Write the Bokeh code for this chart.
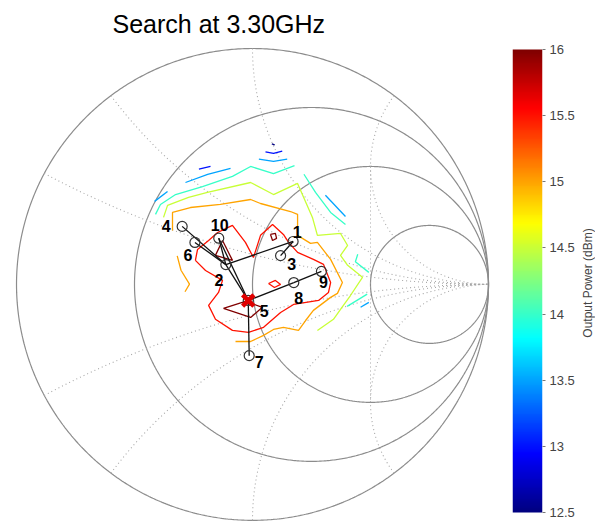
import numpy as np
from bokeh.plotting import figure
from bokeh.models import (Range1d, LinearAxis, FixedTicker, NumeralTickFormatter,
                          LinearColorMapper, ColumnDataSource)
from bokeh.layouts import row
from bokeh.embed import file_html
from bokeh.resources import INLINE
from bokeh.core.properties import value

# ---------------- data ----------------
title_text = "Search at 3.30GHz"
cbar_label = "Output Power (dBm)"
cbar_low, cbar_high = 12.5, 16.0
cbar_ticks = [12.5, 13, 13.5, 14, 14.5, 15, 15.5, 16]

# Smith chart grid values
r_circles = [0, 1 / 3, 1, 3]
x_arcs = [0.25, 0.5, 1, 2]

# search points (reflection coefficient, real / imag)
pt_id = ["1", "2", "3", "4", "5", "6", "7", "8", "9", "10"]
pt_re = [0.172, -0.113, 0.119, -0.298, -0.018, -0.244, -0.014, 0.175, 0.292, -0.143]
pt_im = [0.182, 0.084, 0.122, 0.246, -0.068, 0.178, -0.302, 0.008, 0.055, 0.196]
best_point = "5"
search_edges = [("1", "2"), ("1", "3"), ("2", "4"), ("2", "5"), ("2", "6"),
                ("2", "10"), ("5", "10"), ("5", "7"), ("5", "8"), ("8", "9")]

# contour segments (level, re, im)
c125_a_re = [0.082, 0.094]
c125_a_im = [0.596, 0.592]

c130_a_re = [-0.227, -0.178]
c130_a_im = [0.489, 0.500]
c130_b_re = [0.055, 0.089, 0.126]
c130_b_im = [0.562, 0.555, 0.565]

c135_a_re = [-0.415, -0.360]
c135_a_im = [0.352, 0.394]
c135_b_re = [-0.284, -0.190, -0.093]
c135_b_im = [0.432, 0.466, 0.492]
c135_c_re = [0.027, 0.089, 0.147]
c135_c_im = [0.531, 0.522, 0.531]
c135_d_re = [0.309, 0.394]
c135_d_im = [0.378, 0.288]
c135_e_re = [0.458, 0.493]
c135_e_im = [-0.097, -0.076]

c140_a_re = [-0.411, -0.390, -0.326, -0.212, -0.085, -0.008, 0.089, 0.178]
c140_a_im = [0.297, 0.339, 0.381, 0.415, 0.458, 0.500, 0.470, 0.504]
c140_b_re = [0.218, 0.267, 0.331, 0.394]
c140_b_im = [0.467, 0.390, 0.305, 0.254]
c140_c_re = [0.446, 0.436, 0.493]
c140_c_im = [0.128, 0.096, 0.051]
c140_d_re = [0.401, 0.486]
c140_d_im = [-0.093, -0.041]

c145_a_re = [-0.377, -0.360, -0.271, -0.191, -0.008, 0.089, 0.191, 0.254, 0.275,
             0.373, 0.403, 0.373, 0.403, 0.466, 0.415, 0.373, 0.343, 0.275]
c145_a_im = [0.284, 0.335, 0.369, 0.390, 0.432, 0.381, 0.428, 0.284, 0.208,
             0.216, 0.165, 0.123, 0.081, 0.030, -0.047, -0.106, -0.148, -0.195]

c150_a_re = [-0.339, -0.339, -0.263, -0.136, -0.008, 0.034, 0.161, 0.191, 0.191,
             0.246, 0.275, 0.331, 0.381, 0.360, 0.331, 0.258, 0.225, 0.195,
             0.131, 0.089, 0.047, -0.008, -0.072]
c150_a_im = [0.229, 0.305, 0.326, 0.339, 0.360, 0.343, 0.309, 0.297, 0.208,
             0.174, 0.178, 0.106, 0.008, -0.038, -0.055, -0.110, -0.153, -0.195,
             -0.182, -0.191, -0.216, -0.242, -0.242]
c150_b_re = [-0.319, -0.303, -0.267, -0.286]
c150_b_im = [0.121, 0.060, 0.001, -0.031]

c155_a_re = [-0.242, -0.199, -0.127, -0.144, -0.186, -0.157, -0.085, -0.017, 0.047,
             0.119, 0.174, 0.280, 0.322, 0.331, 0.301, 0.258, 0.191, 0.153, 0.131,
             0.085, 0.034, 0.004, -0.030, -0.085, -0.148, -0.186, -0.233, -0.242]
c155_a_im = [0.102, 0.059, 0.017, -0.034, -0.089, -0.148, -0.195, -0.203, -0.182,
             -0.119, -0.085, -0.068, -0.034, 0.008, 0.085, 0.106, 0.136, 0.178, 0.212,
             0.254, 0.208, 0.114, 0.178, 0.250, 0.220, 0.186, 0.148, 0.102]
c155_b_re = [0.068, 0.097, 0.119, 0.093, 0.068]
c155_b_im = [0.004, 0.017, 0.000, -0.013, 0.004]

c160_a_re = [-0.123, -0.030, 0.042, -0.008, -0.123]
c160_a_im = [-0.102, -0.072, -0.097, -0.140, -0.102]
c160_b_re = [-0.157, -0.127, -0.085, -0.157]
c160_b_im = [0.123, 0.186, 0.102, 0.123]
c160_c_re = [0.076, 0.097, 0.102, 0.085, 0.076]
c160_c_im = [0.212, 0.216, 0.195, 0.186, 0.212]

contours = [
    (12.5, c125_a_re, c125_a_im),
    (13.0, c130_a_re, c130_a_im), (13.0, c130_b_re, c130_b_im),
    (13.5, c135_a_re, c135_a_im), (13.5, c135_b_re, c135_b_im),
    (13.5, c135_c_re, c135_c_im), (13.5, c135_d_re, c135_d_im),
    (13.5, c135_e_re, c135_e_im),
    (14.0, c140_a_re, c140_a_im), (14.0, c140_b_re, c140_b_im),
    (14.0, c140_c_re, c140_c_im), (14.0, c140_d_re, c140_d_im),
    (14.5, c145_a_re, c145_a_im),
    (15.0, c150_a_re, c150_a_im), (15.0, c150_b_re, c150_b_im),
    (15.5, c155_a_re, c155_a_im), (15.5, c155_b_re, c155_b_im),
    (16.0, c160_a_re, c160_a_im), (16.0, c160_b_re, c160_b_im),
    (16.0, c160_c_re, c160_c_im),
]

# label placement (screen px, x right / y down) -- style
lbl_dx = [4, -7, 11, -16, 16, -7, 10, 5, 2, 1]
lbl_dy = [-9, 15, 8, 0, 11, 13, 6, 15, 11, -13]


# ---------------- helpers ----------------
def jet(t):
    t = np.clip(t, 0, 1)
    r = np.clip(1.5 - abs(4 * t - 3), 0, 1)
    g = np.clip(1.5 - abs(4 * t - 2), 0, 1)
    b = np.clip(1.5 - abs(4 * t - 1), 0, 1)
    return "#%02x%02x%02x" % (int(round(r * 255)), int(round(g * 255)), int(round(b * 255)))


jet_palette = [jet(t) for t in np.linspace(0, 1, 256)]

GRID_SOLID = "#8c8c8c"
GRID_DOT = "#a6a6a6"

FRAME_TOP = 42      # shared frame top for all panels (px)
FRAME_H = 477       # shared frame height (px)

# ---------------- Smith chart ----------------
p = figure(frame_width=480, frame_height=FRAME_H, output_backend="svg",
           toolbar_location=None, x_axis_location=None, y_axis_location=None,
           x_range=Range1d(-1.017, 1.017), y_range=Range1d(-1.005, 1.017),
           min_border_left=12, min_border_right=8, min_border_top=FRAME_TOP,
           min_border_bottom=0, title=title_text)
p.grid.visible = False
p.outline_line_color = None
p.background_fill_color = "white"
p.border_fill_color = "white"
p.title.text_font = "Liberation Sans"
p.title.text_font_size = "25px"
p.title.text_font_style = "normal"
p.title.text_color = "black"
p.title.align = "left"
p.title.offset = 100
p.title.standoff = 14

# resistance circles
th = np.linspace(0, 2 * np.pi, 721)
for r in r_circles:
    c = r / (1 + r)
    rad = 1 / (1 + r)
    p.line(c + rad * np.cos(th), rad * np.sin(th), line_color=GRID_SOLID, line_width=1.2)

# reactance arcs
rr = np.concatenate([[0.0], np.logspace(-3, 3, 800)])
for xv in x_arcs:
    for s in (1, -1):
        z = rr + 1j * s * xv
        g = (z - 1) / (z + 1)
        p.line(g.real, g.imag, line_color=GRID_DOT, line_width=1.1, line_dash="1 3")

# dotted chord through the top / bottom of the r=1 circle
zc = np.array([1 + 2j, 1 - 2j])
gc = (zc - 1) / (zc + 1)
p.line(gc.real, gc.imag, line_color=GRID_DOT, line_width=1.1, line_dash="1 3")

# contours
cs = ColumnDataSource(dict(
    xs=[list(c[1]) for c in contours],
    ys=[list(c[2]) for c in contours],
    color=[jet((c[0] - cbar_low) / (cbar_high - cbar_low)) for c in contours],
))
p.multi_line("xs", "ys", line_color="color", line_width=1.3, source=cs)

# search path
idx = {k: i for i, k in enumerate(pt_id)}
es = ColumnDataSource(dict(
    xs=[[pt_re[idx[a]], pt_re[idx[b]]] for a, b in search_edges],
    ys=[[pt_im[idx[a]], pt_im[idx[b]]] for a, b in search_edges],
))
p.multi_line("xs", "ys", line_color="#111111", line_width=1.3, source=es)

ps = ColumnDataSource(dict(x=pt_re, y=pt_im, t=pt_id, dx=lbl_dx, dy=lbl_dy))
p.scatter("x", "y", marker="circle", size=10, fill_color=None,
          line_color="#333333", line_width=1.2, source=ps)
bi = idx[best_point]
p.scatter([pt_re[bi]], [pt_im[bi]], marker="x", size=16, line_color="#e00000",
          line_width=4.5)
p.text("x", "y", text="t", x_offset="dx", y_offset="dy", source=ps,
       text_font=value("Liberation Sans"), text_font_style="bold",
       text_font_size="16px", text_align="center", text_baseline="middle",
       text_color="black")

# ---------------- colour bar ----------------
bar_px = 463.0                       # drawn bar height in px
pad_top_px, pad_bot_px = 5.0, 9.0    # gaps between frame edge and bar
ppu = bar_px / (cbar_high - cbar_low)
cb = figure(frame_width=30, frame_height=FRAME_H, output_backend="svg",
            toolbar_location=None, x_axis_location=None, y_axis_location=None,
            x_range=Range1d(0, 1),
            y_range=Range1d(cbar_low - pad_bot_px / ppu, cbar_high + pad_top_px / ppu),
            min_border_left=12, min_border_right=30, min_border_top=FRAME_TOP,
            min_border_bottom=0)
cb.grid.visible = False
cb.outline_line_color = None
mapper = LinearColorMapper(palette=jet_palette, low=cbar_low, high=cbar_high)
cb.image(image=[np.linspace(cbar_low, cbar_high, 256).reshape(256, 1)],
         x=0, y=cbar_low, dw=1, dh=cbar_high - cbar_low, color_mapper=mapper)
ax = LinearAxis(ticker=FixedTicker(ticks=cbar_ticks),
                formatter=NumeralTickFormatter(format="0.[0]"))
ax.axis_line_color = None
ax.major_tick_in = 0
ax.major_tick_out = 3
ax.major_tick_line_color = "#777777"
ax.minor_tick_line_color = None
ax.major_label_standoff = 4
ax.major_label_text_font = "Liberation Sans"
ax.major_label_text_font_size = "13px"
ax.major_label_text_color = "#444444"
cb.add_layout(ax, "right")

# colour-bar title: a label-only axis of a slim figure (reads bottom to top)
lf = figure(frame_width=1, frame_height=FRAME_H, output_backend="svg",
            toolbar_location=None, x_axis_location=None, y_axis_location=None,
            x_range=Range1d(0, 1), y_range=Range1d(0, 1),
            min_border_left=0, min_border_right=0, min_border_top=FRAME_TOP,
            min_border_bottom=0)
lf.grid.visible = False
lf.outline_line_color = None
lax = LinearAxis(ticker=FixedTicker(ticks=[]), axis_label=cbar_label)
lax.axis_line_color = None
lax.major_tick_line_color = None
lax.minor_tick_line_color = None
lax.major_label_text_font_size = "0px"
lax.major_label_standoff = 0
lax.axis_label_standoff = 0
lax.axis_label_text_font = "Liberation Sans"
lax.axis_label_text_font_size = "12px"
lax.axis_label_text_font_style = "normal"
lax.axis_label_text_color = "#444444"
lf.add_layout(lax, "left")

layout = row(p, cb, lf)
open("out.html", "w").write(file_html(layout, INLINE))
